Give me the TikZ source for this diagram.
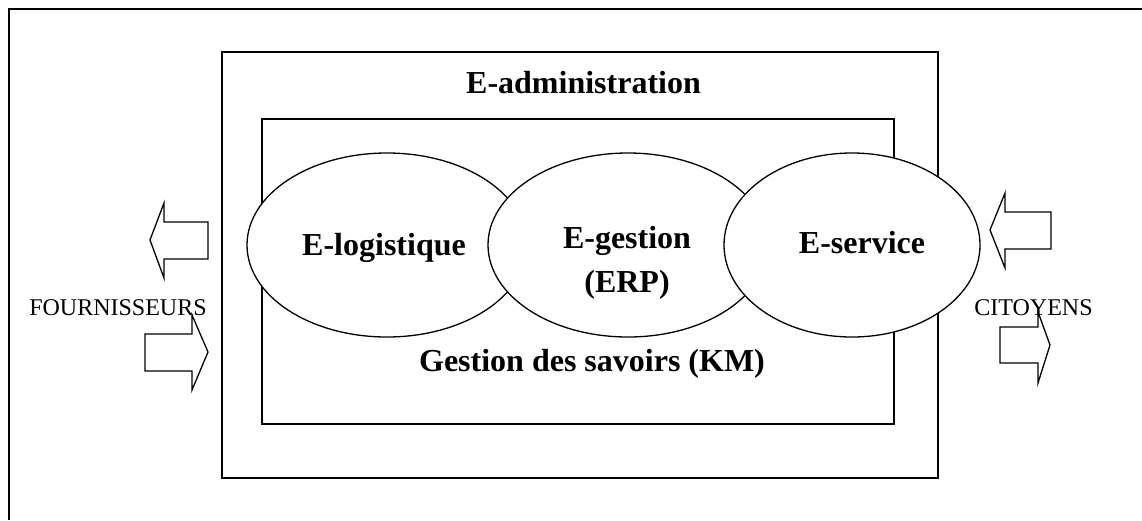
\documentclass[tikz,border=0pt]{standalone}
\usepackage{fontspec}
\setmainfont{Liberation Serif}
\usetikzlibrary{shapes.geometric}
\begin{document}
\begin{tikzpicture}[x=1pt,y=-1pt,
  frame/.style={draw, line width=1.6pt},
  bubble/.style={ellipse, draw, fill=white, line width=1.3pt, inner sep=0pt, minimum height=184pt},
  title/.style={font=\fontsize{32}{38}\selectfont\bfseries, anchor=base, inner sep=0pt},
  side/.style={font=\fontsize{24}{28}\selectfont, anchor=base, inner sep=0pt},
  blockarrow/.style={draw, line width=1.3pt, line join=miter}]
\useasboundingbox (0,0) rectangle (1142,520);

% page frame (only its top and left edges fall inside the figure)
\draw[frame] (9,520) -- (9,9) -- (1142,9);

% e-administration and knowledge-management boxes
\node[frame, rectangle, inner sep=0pt, minimum width=716pt, minimum height=426pt] (admin) at (580,265) {};
\node[frame, rectangle, inner sep=0pt, minimum width=632pt, minimum height=305pt] (km) at (578,271.5) {};
\node[title] (admintitle) at (583.5,93) {E-administration};
\node[title] (kmtitle) at (592,371) {Gestion des savoirs (KM)};

% the three overlapping modules
\node[bubble, minimum width=280pt] (logi) at (387,245) {};
\node[bubble, minimum width=280pt] (gest) at (628,245) {};
\node[bubble, minimum width=256pt] (serv) at (852,245) {};
\node[title] (logitext) at (384,255) {E-logistique};
\node[title] (gesttext) at (627,248) {E-gestion};
\node[title] (erptext) at (627,292) {(ERP)};
\node[title] (servtext) at (862,253) {E-service};

% partners
\node[side] (fourn) at (118,315) {FOURNISSEURS};
\node[side] (citoy) at (1033.5,315) {CITOYENS};

% exchange arrows with suppliers
\draw[blockarrow] (150,240) -- (164,203) -- (164,222) -- (208,222) -- (208,259)
  -- (164,259) -- (164,278) -- cycle;
\draw[blockarrow] (208,352) -- (192,315) -- (192,334) -- (145,334) -- (145,371)
  -- (192,371) -- (192,390) -- cycle;

% exchange arrows with citizens
\draw[blockarrow] (990,230) -- (1005,193) -- (1005,212) -- (1051,212) -- (1051,249)
  -- (1005,249) -- (1005,268) -- cycle;
\draw[blockarrow] (1050,345) -- (1038,312) -- (1038,327) -- (1000,327) -- (1000,363)
  -- (1038,363) -- (1038,383) -- cycle;
\end{tikzpicture}
\end{document}
